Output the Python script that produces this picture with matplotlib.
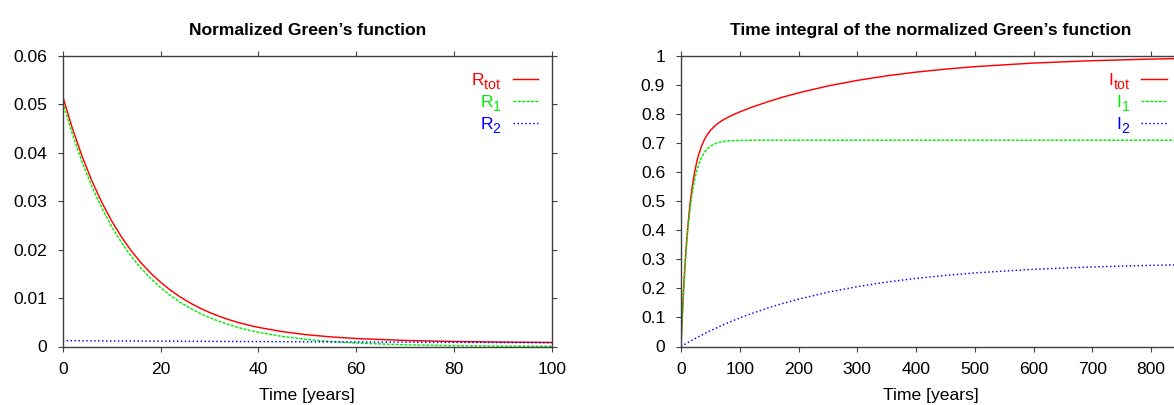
import matplotlib.pyplot as plt
import matplotlib._mathtext as mathtext_core

plt.rcParams['font.family'] = ['Liberation Sans', 'DejaVu Sans']
plt.rcParams['mathtext.fontset'] = 'custom'
plt.rcParams['mathtext.rm'] = 'Liberation Sans'
plt.rcParams['mathtext.it'] = 'Liberation Sans:italic'
plt.rcParams['mathtext.bf'] = 'Liberation Sans:bold'
# larger and lower subscripts, closer to gnuplot's enhanced text
mathtext_core.SHRINK_FACTOR = 0.8
mathtext_core.FontConstantsBase.sub1 = 0.55

# Normalized Green's function, left panel
t_R = [0, 2, 4, 6, 8, 10, 12, 14, 16, 18, 20, 22, 24, 26, 28, 30, 32, 34,
       36, 38, 40, 45, 50, 55, 60, 70, 80, 90, 100]
R_tot = [0.05170, 0.04499, 0.03918, 0.03413, 0.02975, 0.02595, 0.02265,
         0.01978, 0.01731, 0.01515, 0.01329, 0.01166, 0.01025, 0.00903,
         0.00796, 0.00704, 0.00624, 0.00554, 0.00493, 0.00441, 0.00395,
         0.00306, 0.00242, 0.00197, 0.00165, 0.00125, 0.00103, 0.00091,
         0.00083]
R_1 = [0.05050, 0.04380, 0.03800, 0.03296, 0.02859, 0.02480, 0.02151,
       0.01865, 0.01619, 0.01404, 0.01218, 0.01056, 0.00916, 0.00795,
       0.00689, 0.00598, 0.00519, 0.00450, 0.00390, 0.00338, 0.00293,
       0.00206, 0.00144, 0.00101, 0.00071, 0.00035, 0.00017, 0.00008,
       0.00004]
R_2 = [0.001200, 0.001190, 0.001180, 0.001171, 0.001161, 0.001151,
       0.001142, 0.001133, 0.001123, 0.001114, 0.001105, 0.001096,
       0.001087, 0.001078, 0.001069, 0.001060, 0.001051, 0.001043,
       0.001034, 0.001026, 0.001017, 0.000996, 0.000975, 0.000956,
       0.000935, 0.000897, 0.000860, 0.000825, 0.000792]

# Time integral, right panel
t_I = [0, 2, 4, 6, 8, 10, 12, 15, 17.5, 20, 22.5, 25, 27.5, 30, 35, 40,
       45, 50, 60, 70, 80, 90, 100, 120, 150, 175, 200, 250, 300, 350,
       400, 450, 500, 600, 700, 800, 850]
I_tot = [0.0, 0.0965, 0.1806, 0.2538, 0.3175, 0.3730, 0.4216, 0.4831,
         0.5257, 0.5618, 0.5925, 0.6185, 0.6407, 0.6597, 0.6902, 0.7129,
         0.7303, 0.7438, 0.7637, 0.7779, 0.7892, 0.7989, 0.8076, 0.8233,
         0.8440, 0.8593, 0.8731, 0.8968, 0.9160, 0.9317, 0.9445, 0.9548,
         0.9633, 0.9757, 0.9839, 0.9894, 0.9914]
I_1 = [0.0, 0.0941, 0.1758, 0.2467, 0.3081, 0.3613, 0.4076, 0.4657,
       0.5055, 0.5388, 0.5667, 0.5900, 0.6096, 0.6259, 0.6511, 0.6687,
       0.6811, 0.6897, 0.7000, 0.7051, 0.7076, 0.7088, 0.7094, 0.7099,
       0.7100, 0.7100, 0.7100, 0.7100, 0.7100, 0.7100, 0.7100, 0.7100,
       0.7100, 0.7100, 0.7100, 0.7100, 0.7100]
I_2 = [0.0, 0.0024, 0.0048, 0.0071, 0.0094, 0.0117, 0.0140, 0.0174,
       0.0202, 0.0230, 0.0258, 0.0285, 0.0311, 0.0338, 0.0391, 0.0442,
       0.0492, 0.0541, 0.0637, 0.0728, 0.0816, 0.0901, 0.0982, 0.1134,
       0.1340, 0.1493, 0.1631, 0.1868, 0.2060, 0.2217, 0.2345, 0.2448,
       0.2533, 0.2657, 0.2739, 0.2794, 0.2814]

left_yticks = [0, 0.01, 0.02, 0.03, 0.04, 0.05, 0.06]
left_ylabels = ['0', '0.01', '0.02', '0.03', '0.04', '0.05', '0.06']
left_xticks = [0, 20, 40, 60, 80, 100]
right_yticks = [0, 0.1, 0.2, 0.3, 0.4, 0.5, 0.6, 0.7, 0.8, 0.9, 1.0]
right_ylabels = ['0', '0.1', '0.2', '0.3', '0.4', '0.5', '0.6', '0.7',
                 '0.8', '0.9', '1']
right_xticks = [0, 100, 200, 300, 400, 500, 600, 700, 800]

RED = '#ff0000'
GREEN = '#00ee00'
BLUE = '#0000ff'
FS = 12.6
AXC = '#404040'

W, H = 1174, 405
fig = plt.figure(figsize=(W / 100, H / 100), dpi=100)
ax1 = fig.add_axes([62.7 / W, 58.5 / H, 489 / W, 290.5 / H])
ax2 = fig.add_axes([681 / W, 58.5 / H, 499.4 / W, 290.5 / H])


def style(ax):
    for sp in ax.spines.values():
        sp.set_color(AXC)
        sp.set_linewidth(1.0)
    ax.tick_params(direction='out', length=3.6, width=0.8, color=AXC,
                   top=True, right=True, labelsize=FS, pad=7.8)
    ax.set_xlabel('Time [years]', fontsize=FS, labelpad=7.8)


ax1.plot(t_R, R_tot, color=RED, lw=1.05, label=r'R$_{\mathrm{tot}}$')
ax1.plot(t_R, R_1, color=GREEN, lw=1.05, dashes=(2.0, 1.0),
         label=r'R$_{\mathrm{1}}$')
ax1.plot(t_R, R_2, color=BLUE, lw=1.05, dashes=(1.0, 1.7),
         label=r'R$_{\mathrm{2}}$')
ax1.set_xlim(0, 100)
ax1.set_ylim(0, 0.06)
ax1.set_xticks(left_xticks)
ax1.set_yticks(left_yticks, left_ylabels)
ax1.set_title("Normalized Green\u2019s function", fontsize=FS,
              fontweight='bold', pad=15)
style(ax1)

ax2.plot(t_I, I_tot, color=RED, lw=1.05, label=r'I$_{\mathrm{tot}}$')
ax2.plot(t_I, I_1, color=GREEN, lw=1.05, dashes=(2.0, 1.0),
         label=r'I$_{\mathrm{1}}$')
ax2.plot(t_I, I_2, color=BLUE, lw=1.05, dashes=(1.0, 1.7),
         label=r'I$_{\mathrm{2}}$')
ax2.set_xlim(0, 850)
ax2.set_ylim(0, 1)
ax2.set_xticks(right_xticks)
ax2.set_yticks(right_yticks, right_ylabels)
ax2.set_title("Time integral of the normalized Green\u2019s function",
              fontsize=FS, fontweight='bold', pad=15)
style(ax2)

for ax, w in ((ax1, 489), (ax2, 499.4)):
    ax.legend(loc='upper right', bbox_to_anchor=(1 - 13.7 / w, 1 - 15.5 / 290.5),
              frameon=False, markerfirst=False, handlelength=1.45,
              handletextpad=0.63, labelspacing=0.05, borderpad=0,
              borderaxespad=0, labelcolor='linecolor', fontsize=FS)

fig.savefig('out.png', dpi=100)
